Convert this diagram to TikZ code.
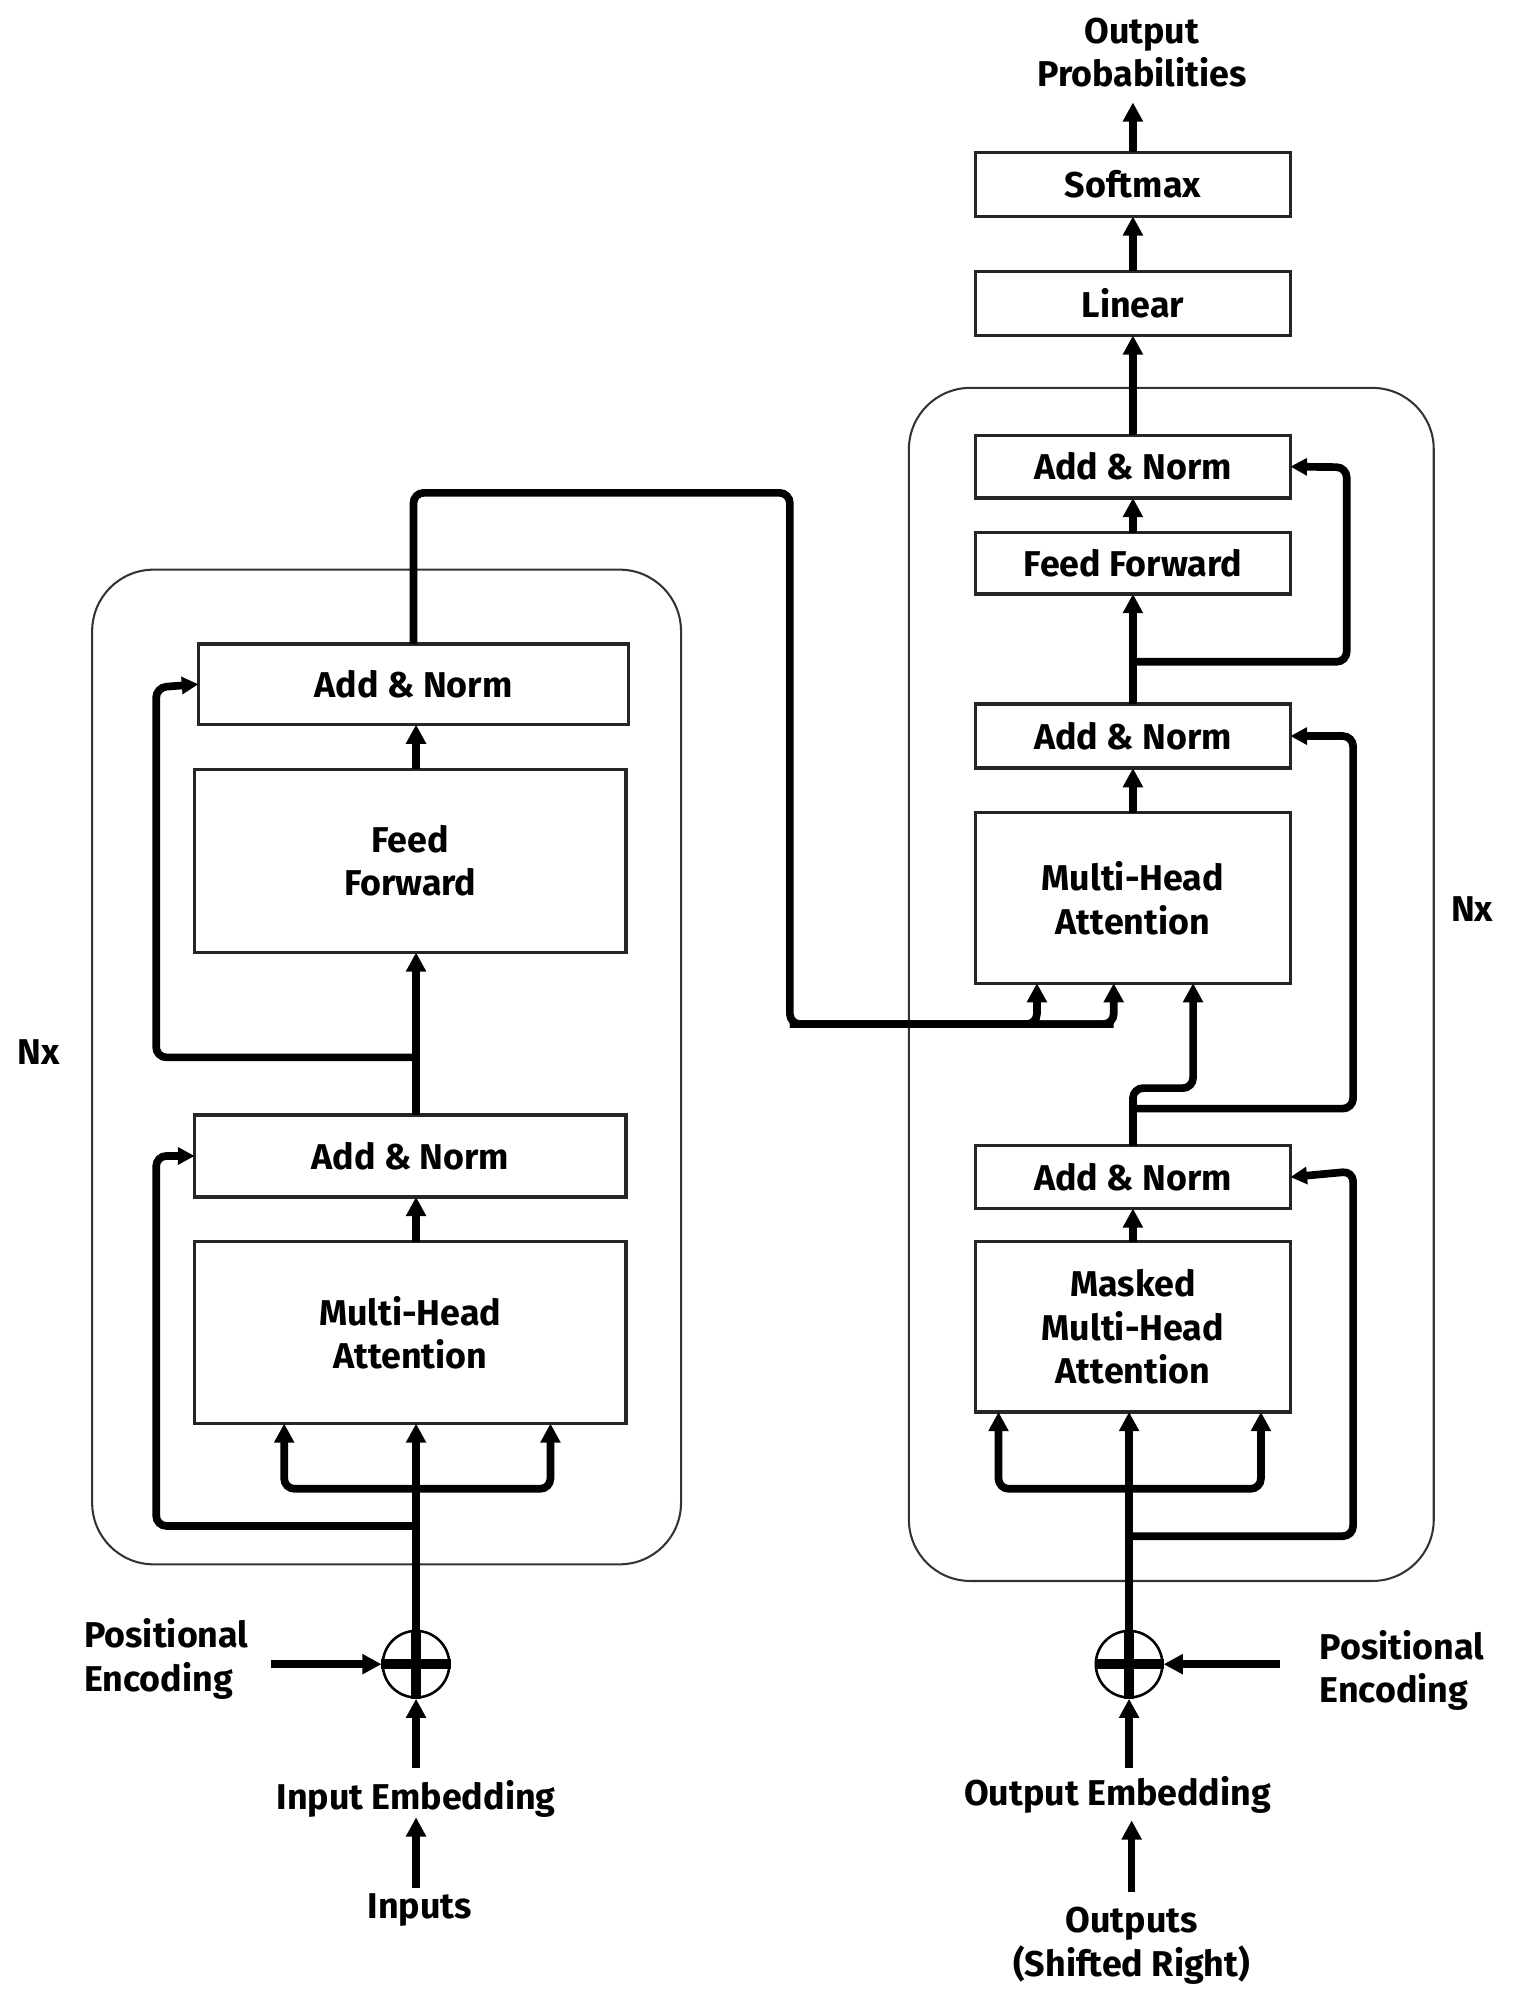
\documentclass[tikz,border=0pt]{standalone}
\usepackage{fontspec}
\setmainfont{Fira Sans}
\usetikzlibrary{arrows.meta,calc}
\begin{document}
\begin{tikzpicture}[x=1pt,y=-1pt,
  box/.style={draw=black!85,line width=2.5pt,inner sep=0pt,outer sep=0pt,align=center,font=\fontsize{28}{34}\selectfont\bfseries},
  txt/.style={align=center,inner sep=0pt,font=\fontsize{28}{34}\selectfont\bfseries},
  outer/.style={draw=black!80,line width=1.6pt,rounded corners=48pt},
  fl/.style={line width=6pt,rounded corners=8pt},
  ar/.style={fl,-{Triangle[length=15pt,width=15pt]}},
  arl/.style={fl,-{Triangle[length=13pt,width=13pt]}}]
\useasboundingbox (0,0) rectangle (1185,1560);
% outer boxes
\draw[outer] (72,445) rectangle (532,1222);
\draw[outer] (710,303) rectangle (1120,1235);
\node[txt] at (30,822) {Nx};
\node[txt] at (1150,710) {Nx};
% encoder
\node[box,minimum width=336pt,minimum height=63pt] (ean2) at (323,534.5) {Add \& Norm};
\node[box,minimum width=337pt,minimum height=143pt] (eff) at (320.5,672.5) {Feed\\Forward};
\node[box,minimum width=337pt,minimum height=64pt] (ean1) at (320.5,903) {Add \& Norm};
\node[box,minimum width=337pt,minimum height=142pt] (emha) at (320.5,1041) {Multi-Head\\Attention};
\node[draw,circle,line width=2pt,minimum size=52pt,inner sep=0pt] (epl) at (325,1300) {};
\draw[line width=8pt] (epl.west)--(epl.east) (epl.north)--(epl.south);
\node[txt,align=left] (epos) at (130,1296) {Positional\\Encoding};
\node[txt] (eemb) at (325,1405) {Input Embedding};
\node[txt] (ein) at (328,1492) {Inputs};
\draw[ar] (325,1475) -- (eemb.south);
\draw[ar] (325,1381) -- (epl.south);
\draw[ar] (212,1300) -- (epl.west);
\draw[ar] (epl.north) -- (325,1112);
\draw[ar] (325,1163) -| (222,1112);
\draw[ar] (325,1163) -| (430,1112);
\draw[arl] (325,1192) -| (122,903) -- (ean1.west);
\draw[ar] (325,970) -- (325,935);
\draw[ar] (325,871) -- (325,744);
\draw[arl] (325,826) -| (122,537) -- (ean2.west);
\draw[ar] (325,601) -- (325,566);
% decoder
\node[box,minimum width=246pt,minimum height=50pt] (soft) at (885,144) {Softmax};
\node[box,minimum width=246pt,minimum height=50pt] (lin) at (885,237) {Linear};
\node[box,minimum width=246pt,minimum height=49pt] (dan3) at (885,364.5) {Add \& Norm};
\node[box,minimum width=246pt,minimum height=48pt] (dff) at (885,440) {Feed Forward};
\node[box,minimum width=246pt,minimum height=50pt] (dan2) at (885,575) {Add \& Norm};
\node[box,minimum width=246pt,minimum height=133pt] (dmha) at (885,701.5) {Multi-Head\\Attention};
\node[box,minimum width=246pt,minimum height=49pt] (dan1) at (885,919.5) {Add \& Norm};
\node[box,minimum width=246pt,minimum height=133pt] (dmm) at (885,1036.5) {Masked\\Multi-Head\\Attention};
\node[draw,circle,line width=2pt,minimum size=52pt,inner sep=0pt] (dpl) at (882,1300) {};
\draw[line width=8pt] (dpl.west)--(dpl.east) (dpl.north)--(dpl.south);
\node[txt,align=left] (dpos) at (1095,1305) {Positional\\Encoding};
\node[txt] (demb) at (873,1402) {Output Embedding};
\node[txt] (dout) at (884,1520) {Outputs\\(Shifted Right)};
\node[txt] (prob) at (892,41) {Output\\Probabilities};
\draw[ar] (884,1478) -- (884,1422);
\draw[ar] (882,1381) -- (dpl.south);
\draw[ar] (1000,1300) -- (dpl.east);
\draw[ar] (dpl.north) -- (882,1103);
\draw[ar] (882,1163) -| (780,1103);
\draw[ar] (882,1163) -| (985,1103);
\draw[arl] (882,1200) -| (1057,915) -- (dan1.east);
\draw[ar] (885,970) -- (885,944);
\draw[ar] (885,895) -- (885,850) -| (932,768);
\draw[arl] (885,866) -| (1057,575) -- (dan2.east);
\draw[ar] (885,635) -- (885,600);
\draw[ar] (885,550) -- (885,464);
\draw[arl] (885,517) -| (1052,365) -- (dan3.east);
\draw[ar] (885,416) -- (885,389);
\draw[ar] (885,340) -- (885,262);
\draw[ar] (885,212) -- (885,169);
\draw[ar] (885,119) -- (885,80);
% encoder to decoder
\draw[fl] (323,503) -- (323,385) -| (617,800) -- (870,800);
\draw[ar] (617,800) -| (810,768);
\draw[ar] (617,800) -| (870,768);
\end{tikzpicture}
\end{document}
